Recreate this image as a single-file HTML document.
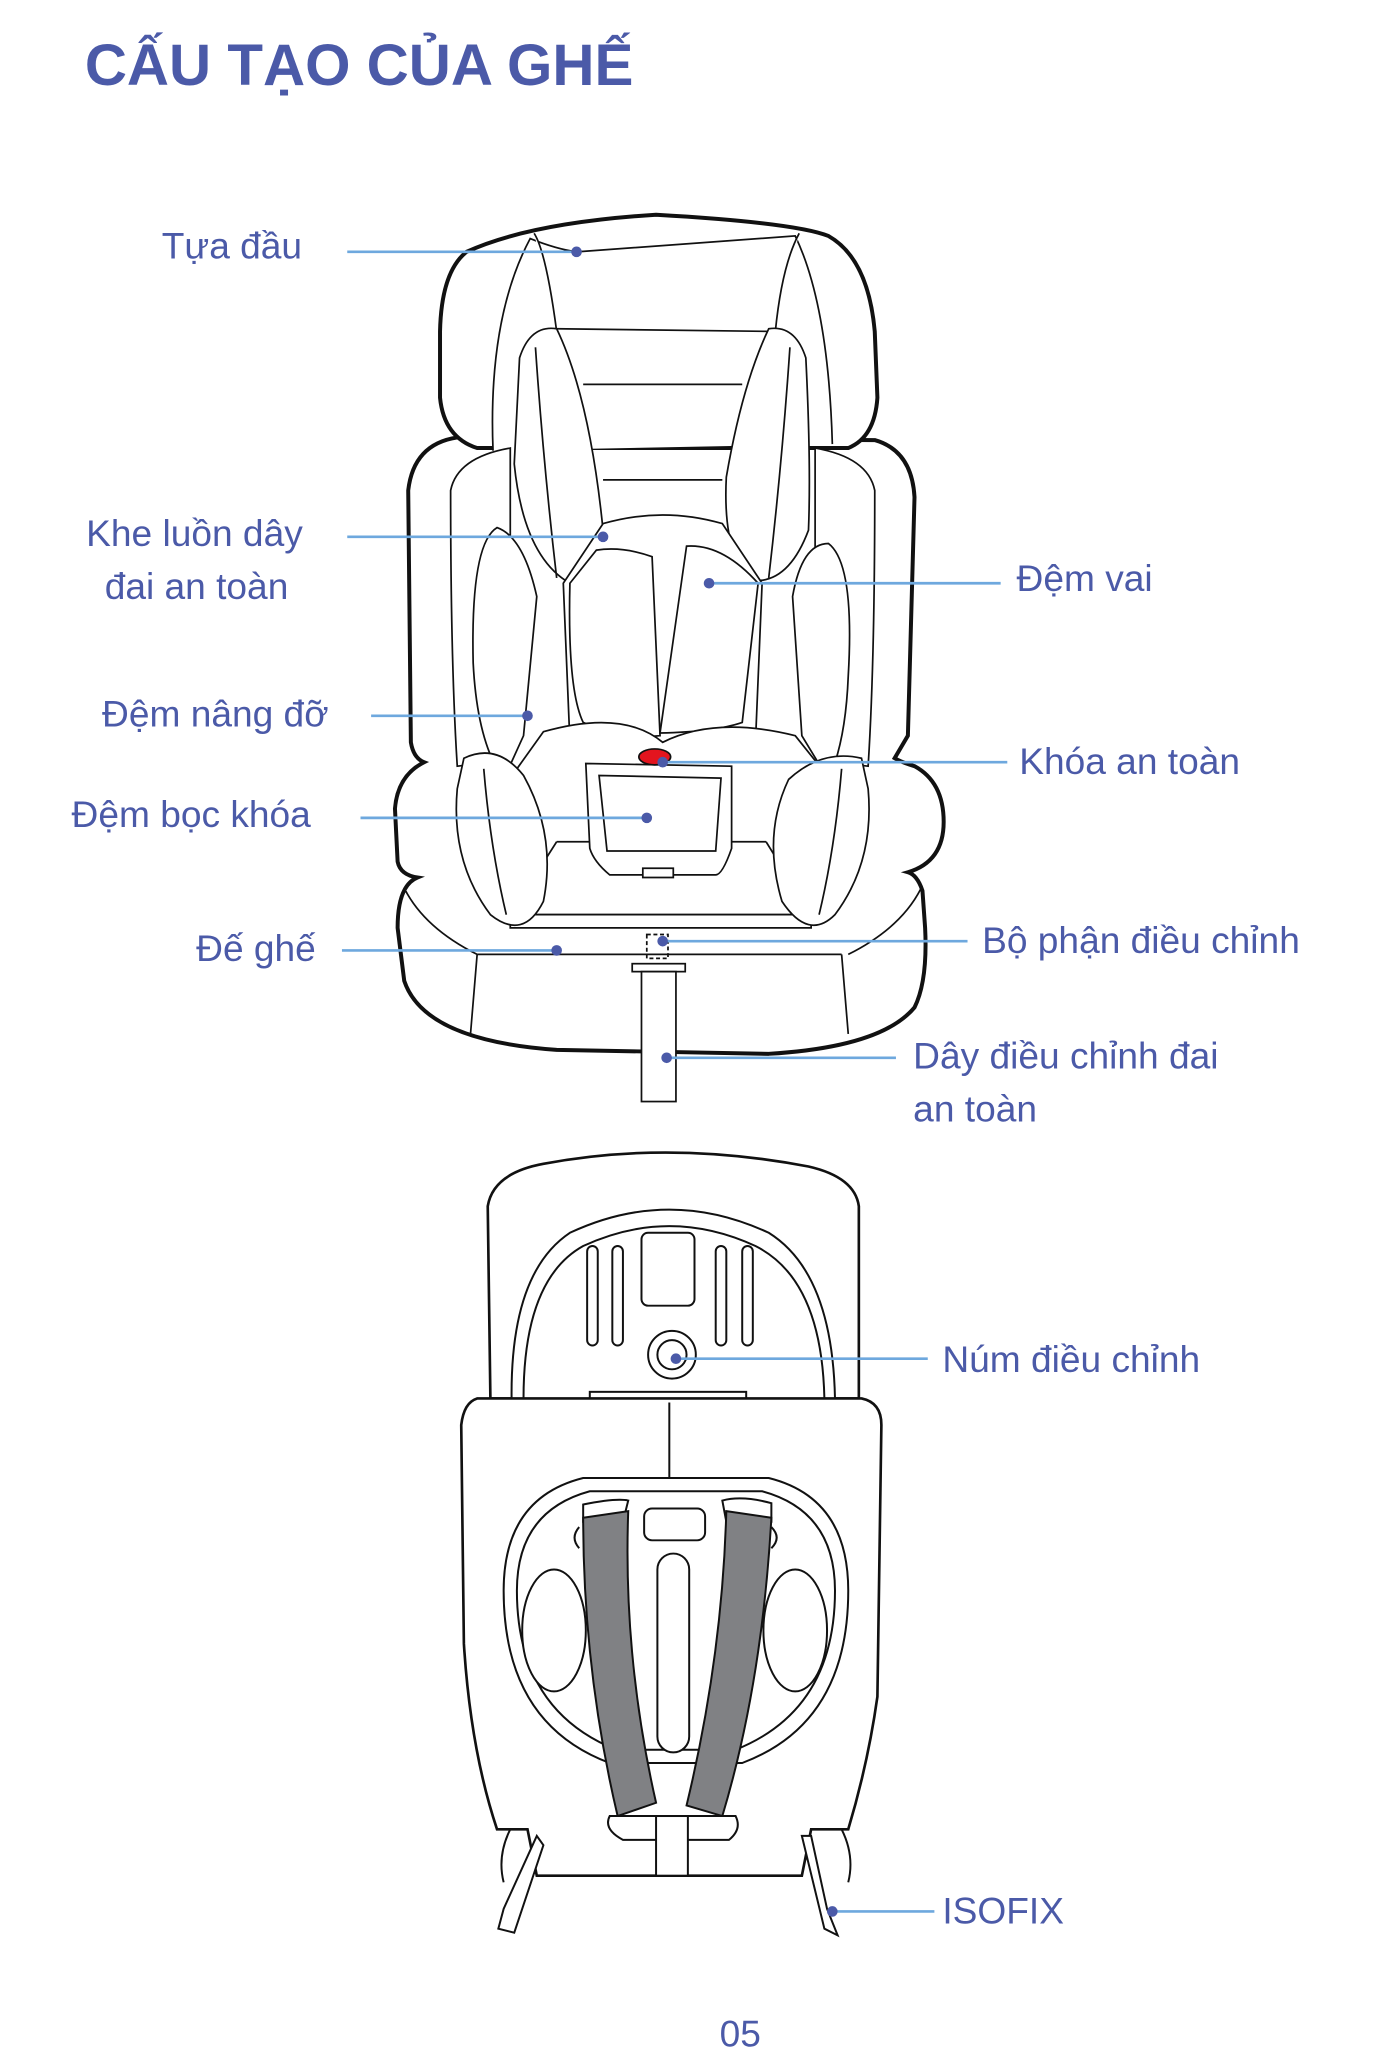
<!DOCTYPE html>
<html><head><meta charset="utf-8"><style>
html,body{margin:0;padding:0;background:#fff}
svg{display:block}
text{font-family:"Liberation Sans","DejaVu Sans",sans-serif;fill:#4b5aa8}
.l{font-size:28px}
</style></head><body>
<svg width="1389" height="2048" viewBox="0 0 1048 1545" preserveAspectRatio="none" xmlns="http://www.w3.org/2000/svg">
<text x="64" y="64" style="font-size:44px;font-weight:bold">CẤU TẠO CỦA GHẾ</text>

<g fill="#fff" stroke="#111" stroke-width="1.3">
<!-- backrest outer -->
<path d="M345 330 Q312 335 308 370 L310 560 Q312 572 320 575 Q300 585 298 610 L300 650 Q302 660 315 662 Q300 668 300 700 L305 740 Q320 785 420 792 L580 795 Q665 790 690 760 Q700 740 698 700 L696 672 Q692 660 685 658 Q712 650 712 620 Q712 590 690 578 Q680 575 675 572 L685 555 L690 375 Q688 340 660 332 Z" stroke-width="3"/>
<!-- headrest outer -->
<path d="M360 338 Q335 330 332 300 L332 250 Q333 205 352 190 Q400 168 495 162 Q600 168 625 178 Q655 195 660 250 L662 300 Q660 330 640 338 Z" stroke-width="3"/>
<path d="M372 340 Q368 240 400 180 Q420 188 435 190 Q500 185 600 178 Q625 230 628 335"/>
<path d="M403 176 Q412 190 420 250 M603 176 Q590 200 585 250"/>
<path d="M420 248 L580 250 M440 290 L560 290 M455 362 L545 362"/>
<!-- side wings back -->
<path d="M340 370 Q345 345 385 338 L385 540 Q380 560 370 575 L345 578 Q340 500 340 370 Z"/>
<path d="M660 370 Q655 345 615 338 L615 540 Q620 560 630 575 L655 578 Q660 500 660 370 Z"/>
<!-- shoulder pads -->
<path d="M392 270 Q400 245 420 248 Q445 300 455 400 Q452 440 430 440 Q395 420 388 350 Z"/>
<path d="M580 248 Q600 245 608 270 Q612 350 610 400 Q595 440 568 438 Q545 420 548 360 Q560 290 580 248 Z"/>
<path d="M404 262 Q410 350 420 436 M596 262 Q590 350 580 436"/>
<!-- inner cushion -->
<path d="M455 395 Q500 382 545 395 L575 440 L570 560 L430 560 L425 440 Z"/>
<path d="M430 440 Q428 520 440 545 Q470 558 498 555 L492 420 Q470 412 450 415 Z"/>
<path d="M518 412 Q545 410 572 440 L560 545 Q540 552 498 553 Z"/>
<!-- side supports -->
<path d="M375 398 Q355 410 357 500 Q360 560 380 588 L395 555 L405 450 Q395 405 375 398 Z"/>
<path d="M625 410 Q645 425 640 510 Q638 560 625 588 L605 555 L598 450 Q605 410 625 410 Z"/>
<!-- seat area -->
<path d="M410 552 Q470 535 500 560 Q540 540 600 555 L620 580 L620 690 L385 690 L390 580 Z"/>
<path d="M385 690 L612 690 L612 700 L385 700 Z"/>
<path d="M420 635 L385 690 M578 635 L612 690 M420 635 L578 635"/>
<!-- thigh pads -->
<path d="M350 572 Q375 560 395 585 Q420 630 410 680 Q395 710 370 690 Q340 650 345 595 Z"/>
<path d="M650 572 Q620 565 595 588 Q575 630 590 680 Q610 710 630 690 Q660 650 655 595 Z"/>
<path d="M365 580 Q370 640 382 690 M635 580 Q630 640 618 690"/>
<!-- buckle pad -->
<path d="M442 576 L552 578 L552 640 Q545 660 540 660 L460 660 Q448 650 445 640 Z"/>
<path d="M452 585 L544 587 L540 642 L458 642 Z"/>
<path d="M485 655 L508 655 L508 662 L485 662 Z"/>
<ellipse cx="494" cy="571" rx="12" ry="6" fill="#e3141e" stroke="#111"/>
<!-- base -->
<path d="M360 720 Q320 700 305 670 M640 720 Q680 700 695 670"/>
<path d="M360 720 L355 780 M635 720 L640 780 M360 720 L635 720"/>
<!-- strap -->
<rect x="488" y="705" width="16" height="18" fill="none" stroke-dasharray="3 2"/>
<rect x="477" y="727" width="40" height="6"/>
<rect x="484" y="733" width="26" height="98"/>
</g>

<!-- bottom seat back view -->
<g fill="#fff" stroke="#111" stroke-width="1.5">
<path d="M370 1055 L368 910 Q372 885 410 878 Q505 860 610 880 Q645 888 648 910 L648 1055 Z" stroke-width="2"/>
<path d="M386 1055 Q385 960 430 930 Q505 895 580 930 Q628 960 630 1055"/>
<path d="M395 1055 Q395 965 440 940 Q505 910 570 940 Q620 965 622 1055"/>
<rect x="484" y="930" width="40" height="55" rx="5"/>
<rect x="443" y="940" width="8" height="75" rx="4"/>
<rect x="462" y="940" width="8" height="75" rx="4"/>
<rect x="540" y="940" width="8" height="75" rx="4"/>
<rect x="560" y="940" width="8" height="75" rx="4"/>
<circle cx="507" cy="1022" r="18"/><circle cx="507" cy="1022" r="11"/>
<rect x="445" y="1050" width="118" height="6"/>
<path d="M360 1055 L650 1055 Q665 1058 665 1075 L662 1280 Q655 1330 640 1380 L612 1380 L605 1415 L405 1415 L398 1380 L375 1380 Q355 1320 350 1240 L348 1075 Q350 1058 360 1055 Z" stroke-width="2"/>
<path d="M505 1058 L505 1115"/>
<path d="M380 1200 Q380 1130 440 1115 L580 1115 Q640 1130 640 1200 Q640 1300 560 1330 L460 1330 Q380 1300 380 1200 Z"/>
<path d="M390 1200 Q390 1140 445 1125 L575 1125 Q630 1140 630 1200 Q630 1290 555 1320 L465 1320 Q390 1290 390 1200 Z"/>
<ellipse cx="418" cy="1230" rx="24" ry="46"/>
<ellipse cx="600" cy="1230" rx="24" ry="46"/>
<rect x="486" y="1138" width="46" height="24" rx="6"/>
<rect x="496" y="1172" width="24" height="150" rx="12"/>
<path d="M437 1152 Q430 1160 437 1168 M582 1152 Q590 1160 582 1168"/>
<path d="M440 1135 Q465 1130 474 1132 L470 1148 L440 1148 Z"/>
<path d="M545 1132 Q560 1128 582 1134 L582 1148 L548 1148 Z"/>
<path d="M440 1145 L474 1140 Q470 1250 495 1360 L466 1370 Q440 1260 440 1145 Z" fill="#808184"/>
<path d="M548 1140 L582 1145 Q575 1270 545 1370 L518 1362 Q545 1250 548 1140 Z" fill="#808184"/>
<path d="M460 1370 L555 1370 Q560 1380 550 1388 L470 1388 Q455 1380 460 1370 Z"/>
<rect x="495" y="1370" width="24" height="45"/>
<path d="M405 1385 L380 1440 L376 1455 L388 1458 L410 1392 Z"/>
<path d="M605 1385 L622 1455 L632 1460 L624 1440 L612 1385 Z"/>
<path d="M385 1380 Q375 1400 380 1420 M635 1380 Q645 1400 640 1420"/>
</g>

<!-- leader lines -->
<g stroke="#6ea8de" stroke-width="2">
<line x1="262" y1="190" x2="435" y2="190"/>
<line x1="262" y1="405" x2="455" y2="405"/>
<line x1="535" y1="440" x2="755" y2="440"/>
<line x1="280" y1="540" x2="398" y2="540"/>
<line x1="500" y1="575" x2="760" y2="575"/>
<line x1="272" y1="617" x2="488" y2="617"/>
<line x1="258" y1="717" x2="420" y2="717"/>
<line x1="500" y1="710" x2="730" y2="710"/>
<line x1="503" y1="798" x2="676" y2="798"/>
<line x1="510" y1="1025" x2="700" y2="1025"/>
<line x1="628" y1="1442" x2="705" y2="1442"/>
</g>
<g fill="#4b5aa8">
<circle cx="435" cy="190" r="4"/><circle cx="455" cy="405" r="4"/><circle cx="535" cy="440" r="4"/>
<circle cx="398" cy="540" r="4"/><circle cx="500" cy="575" r="4"/><circle cx="488" cy="617" r="4"/>
<circle cx="420" cy="717" r="4"/><circle cx="500" cy="710" r="4"/><circle cx="503" cy="798" r="4"/>
<circle cx="510" cy="1025" r="4"/><circle cx="628" cy="1442" r="4"/>
</g>

<text class="l" x="122" y="195">Tựa đầu</text>
<text class="l" x="65" y="412">Khe luồn dây</text>
<text class="l" x="79" y="452">đai an toàn</text>
<text class="l" x="767" y="446">Đệm vai</text>
<text class="l" x="77" y="548">Đệm nâng đỡ</text>
<text class="l" x="769" y="584">Khóa an toàn</text>
<text class="l" x="54" y="624">Đệm bọc khóa</text>
<text class="l" x="148" y="725">Đế ghế</text>
<text class="l" x="741" y="719">Bộ phận điều chỉnh</text>
<text class="l" x="689" y="806">Dây điều chỉnh đai</text>
<text class="l" x="689" y="846">an toàn</text>
<text class="l" x="711" y="1035">Núm điều chỉnh</text>
<text class="l" x="711" y="1451">ISOFIX</text>
<text class="l" x="543" y="1544">05</text>
</svg>
</body></html>
